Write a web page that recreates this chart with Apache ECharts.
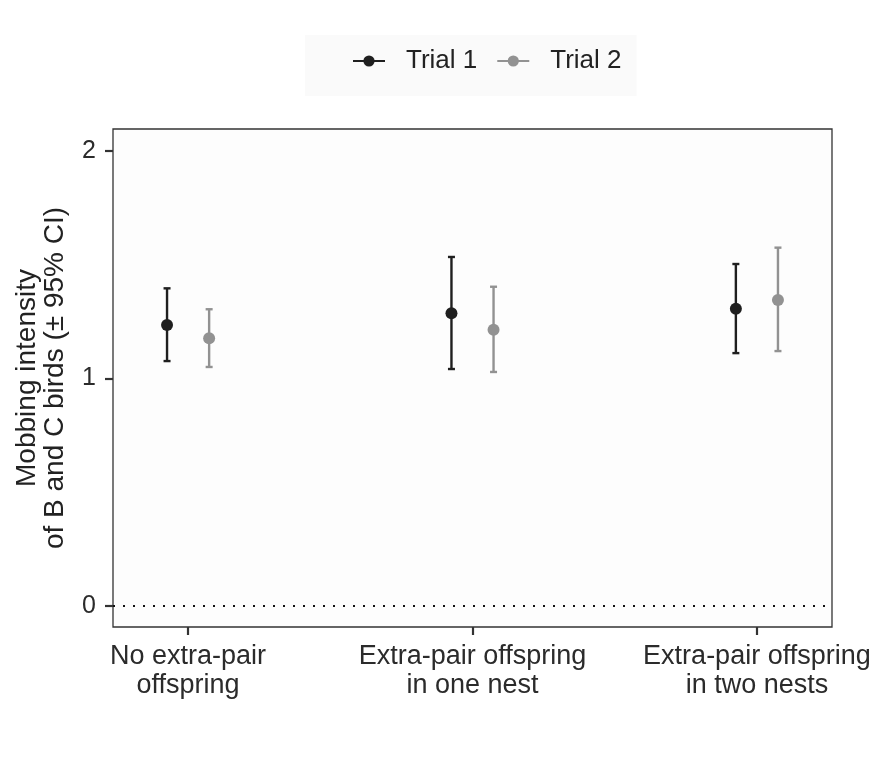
<!DOCTYPE html>
<html>
<head>
<meta charset="utf-8">
<script src="https://cdn.jsdelivr.net/npm/echarts@6/dist/echarts.min.js"></script>
<style>
html,body{margin:0;padding:0;background:#fff;}
#c{width:888px;height:758px;}
</style>
</head>
<body>
<div id="c"></div>
<script>
// ---- data ----
var categories = ['No extra-pair\noffspring', 'Extra-pair offspring\nin one nest', 'Extra-pair offspring\nin two nests'];
var seriesNames = ['Trial 1', 'Trial 2'];
var trial1Mean  = [1.235, 1.286, 1.306];
var trial1Lower = [1.076, 1.041, 1.111];
var trial1Upper = [1.396, 1.534, 1.503];
var trial2Mean  = [1.176, 1.214, 1.345];
var trial2Lower = [1.050, 1.028, 1.120];
var trial2Upper = [1.304, 1.403, 1.575];
var yTicks = [0, 1, 2];

// ---- style ----
var colors = ['#1f1f1f', '#929292'];
var dodge = 0.074;
var FONT = 'Liberation Sans, Arial, sans-serif';

function errSeries(name, lower, upper, off, color) {
  return {
    type: 'custom',
    name: name + ' CI',
    z: 2,
    data: lower.map(function (l, i) { return [i + 1 + off, l, upper[i]]; }),
    encode: { x: 0, y: [1, 2] },
    renderItem: function (params, api) {
      var x = api.value(0);
      var lo = api.coord([x, api.value(1)]);
      var hi = api.coord([x, api.value(2)]);
      var hw = 3.5;
      var st = { stroke: color, lineWidth: 2.4 };
      return {
        type: 'group',
        children: [
          { type: 'line', shape: { x1: lo[0], y1: lo[1], x2: hi[0], y2: hi[1] }, style: st },
          { type: 'line', shape: { x1: lo[0] - hw, y1: lo[1], x2: lo[0] + hw, y2: lo[1] }, style: st },
          { type: 'line', shape: { x1: hi[0] - hw, y1: hi[1], x2: hi[0] + hw, y2: hi[1] }, style: st }
        ]
      };
    }
  };
}
function pointSeries(name, mean, off, color) {
  return {
    type: 'scatter',
    name: name + ' mean',
    z: 3,
    symbol: 'circle',
    symbolSize: 12,
    itemStyle: { color: color, opacity: 1 },
    data: mean.map(function (v, i) { return [i + 1 + off, v]; })
  };
}
function legendSeries(name, color) {
  return {
    type: 'line',
    name: name,
    data: [],
    symbol: 'circle',
    symbolSize: 12,
    itemStyle: { color: color },
    lineStyle: { color: color, width: 2.2 }
  };
}

var chart = echarts.init(document.getElementById('c'), null, { renderer: 'canvas' });
chart.setOption({
  backgroundColor: '#ffffff',
  animation: false,
  textStyle: { fontFamily: FONT },
  legend: {
    data: seriesNames,
    left: 305,
    top: 35,
    itemWidth: 32,
    itemHeight: 14,
    itemGap: 19,
    backgroundColor: '#fafafa',
    padding: [13, 15, 22, 47],
    textStyle: { fontSize: 26, color: '#222', fontFamily: FONT, padding: [0, 0, 0, 16] }
  },
  grid: {
    left: 113, right: 56, top: 129, bottom: 131,
    outerBoundsMode: 'none',
    containLabel: false,
    show: true, borderColor: '#333', borderWidth: 1.3, backgroundColor: '#fdfdfd'
  },
  xAxis: {
    type: 'value',
    min: 0.736, max: 3.264,
    splitLine: { show: false },
    axisLine: { show: false, onZero: false },
    axisTick: { show: true, length: 8, lineStyle: { color: '#333', width: 2.2 }, customValues: [1, 2, 3] },
    axisLabel: {
      customValues: [1, 2, 3],
      formatter: function (v) { return categories[Math.round(v) - 1]; },
      fontSize: 27, color: '#2b2b2b', lineHeight: 29, margin: 15, align: 'center', fontFamily: FONT
    }
  },
  yAxis: {
    type: 'value',
    min: -0.094, max: 2.097,
    name: 'Mobbing intensity\nof B and C birds (± 95% CI)',
    nameLocation: 'middle',
    nameGap: 44,
    nameTextStyle: { fontSize: 28, color: '#222', lineHeight: 28, fontFamily: FONT },
    splitLine: { show: false },
    axisLine: { show: false, onZero: false },
    axisTick: { show: true, length: 8, lineStyle: { color: '#333', width: 2.2 }, customValues: yTicks },
    axisLabel: { customValues: yTicks, fontSize: 25, color: '#2b2b2b', margin: 17, fontFamily: FONT }
  },
  series: [
    errSeries(seriesNames[0], trial1Lower, trial1Upper, -dodge, colors[0]),
    errSeries(seriesNames[1], trial2Lower, trial2Upper, dodge, colors[1]),
    pointSeries(seriesNames[0], trial1Mean, -dodge, colors[0]),
    pointSeries(seriesNames[1], trial2Mean, dodge, colors[1]),
    legendSeries(seriesNames[0], colors[0]),
    legendSeries(seriesNames[1], colors[1]),
    {
      type: 'line', name: 'zero', data: [], silent: true,
      markLine: {
        silent: true, symbol: 'none', label: { show: false },
        lineStyle: { type: [2, 8], color: '#111', width: 2 },
        data: [{ yAxis: 0 }]
      }
    }
  ]
});
</script>
</body>
</html>
